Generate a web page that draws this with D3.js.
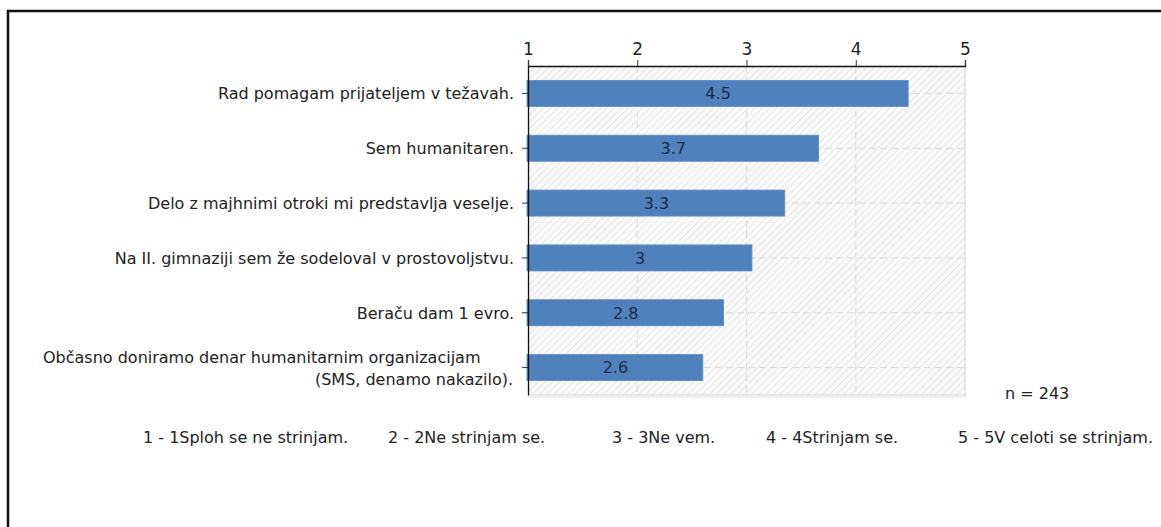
<!DOCTYPE html>
<html><head><meta charset="utf-8">
<script src="https://cdn.jsdelivr.net/npm/d3@7"></script>
<style>
html,body{margin:0;padding:0;background:#fff;}
svg{display:block;}
text{font-family:'DejaVu Sans',sans-serif;fill:#222;}
</style></head>
<body><svg id="c" width="1161" height="527"></svg>
<script>
const categories = [
  "Rad pomagam prijateljem v težavah.",
  "Sem humanitaren.",
  "Delo z majhnimi otroki mi predstavlja veselje.",
  "Na II. gimnaziji sem že sodeloval v prostovoljstvu.",
  "Beraču dam 1 evro.",
  "Občasno doniramo denar humanitarnim organizacijam\n(SMS, denamo nakazilo)."
];
const values = [4.48, 3.66, 3.35, 3.05, 2.79, 2.60];
const valueLabels = ["4.5", "3.7", "3.3", "3", "2.8", "2.6"];
const ticks = [1, 2, 3, 4, 5];
const legendLabels = [
  "1 - 1Sploh se ne strinjam.",
  "2 - 2Ne strinjam se.",
  "3 - 3Ne vem.",
  "4 - 4Strinjam se.",
  "5 - 5V celoti se strinjam."
];
const nLabel = "n = 243";

// layout
const L = {x0:528, x1:965, y0:66, y1:395, fs:16};
const legendX = [143, 388, 612, 766, 958];

const svg = d3.select("#c");
svg.append("rect").attr("x",8).attr("y",11).attr("width",1200).attr("height",600)
  .attr("fill","none").attr("stroke","#111").attr("stroke-width",2.5);

const x = d3.scaleLinear().domain([1,5]).range([L.x0, L.x1]);
const y = d3.scaleBand().domain(categories).range([L.y0, L.y1]).paddingInner(0.525).paddingOuter(0.2625);

const defs = svg.append("defs");
const pat = defs.append("pattern").attr("id","hatch").attr("patternUnits","userSpaceOnUse")
  .attr("width",5).attr("height",5).attr("patternTransform","rotate(45)");
pat.append("rect").attr("width",5).attr("height",5).attr("fill","#f9f9f9");
pat.append("line").attr("x1",0).attr("y1",0).attr("x2",0).attr("y2",5).attr("stroke","#e4e4e4").attr("stroke-width",1.6);

svg.append("rect").attr("x",L.x0).attr("y",L.y0).attr("width",L.x1-L.x0).attr("height",L.y1-L.y0).attr("fill","url(#hatch)");

const g = svg.append("g");
g.selectAll("line.v").data(ticks.slice(1,4)).join("line")
  .attr("x1",d=>x(d)).attr("x2",d=>x(d)).attr("y1",L.y0).attr("y2",L.y1)
  .attr("stroke","#dcdcdc").attr("stroke-dasharray","7,4");
g.selectAll("line.h").data(categories).join("line")
  .attr("x1",L.x0).attr("x2",L.x1).attr("y1",d=>y(d)+y.bandwidth()/2).attr("y2",d=>y(d)+y.bandwidth()/2)
  .attr("stroke","#dcdcdc").attr("stroke-dasharray","7,4");
svg.append("line").attr("x1",x(5)).attr("x2",x(5)).attr("y1",L.y0).attr("y2",L.y1+1).attr("stroke","#d0d0d0");
svg.append("line").attr("x1",L.x0).attr("x2",x(5)+2).attr("y1",L.y1).attr("y2",L.y1).attr("stroke","#d4d4d4").attr("stroke-width",1);
svg.append("line").attr("x1",L.x0).attr("x2",x(5)+2).attr("y1",L.y1+2).attr("y2",L.y1+2).attr("stroke","#e2e2e2").attr("stroke-width",1);

svg.selectAll("rect.bar").data(categories).join("rect").attr("class","bar")
  .attr("x",x(1)-1).attr("y",d=>y(d))
  .attr("width",(d,i)=>x(values[i])-x(1)+1).attr("height",y.bandwidth())
  .attr("fill","#4f81bd").attr("stroke","#5b8bc4").attr("stroke-width",0.8);

svg.selectAll("text.val").data(categories).join("text")
  .attr("x",(d,i)=>(x(1)+x(values[i]))/2).attr("y",d=>y(d)+y.bandwidth()/2).attr("dy","0.36em")
  .attr("text-anchor","middle").style("font-size",L.fs+"px").style("fill","#1c2a4a")
  .text((d,i)=>valueLabels[i]);

const topAxis = svg.append("g").attr("transform",`translate(0,${L.y0})`)
  .call(d3.axisTop(x).tickValues(ticks).tickFormat(d3.format("d")).tickSize(6).tickPadding(5));
topAxis.select(".domain").attr("stroke","#111").attr("stroke-width",1.3);
topAxis.selectAll(".tick line").attr("stroke","#333");
topAxis.selectAll(".tick text").style("font-size","17px").style("font-family","'DejaVu Sans',sans-serif").attr("fill","#222");

const leftAxis = svg.append("g").attr("transform",`translate(${L.x0},0)`)
  .call(d3.axisLeft(y).tickSize(6).tickSizeOuter(0).tickFormat(""));
leftAxis.select(".domain").attr("stroke","#111").attr("stroke-width",1.3);
leftAxis.selectAll(".tick line").attr("stroke","#333");

categories.forEach(c=>{
  const lines = c.split("\n");
  const cy = y(c)+y.bandwidth()/2;
  if(lines.length===1){
    svg.append("text").attr("x",L.x0-14).attr("y",cy).attr("dy","0.36em")
      .attr("text-anchor","end").style("font-size",L.fs+"px").text(lines[0]);
  } else {
    svg.append("text").attr("x",43).attr("y",cy-10).attr("dy","0.36em")
      .attr("text-anchor","start").style("font-size",L.fs+"px").text(lines[0]);
    svg.append("text").attr("x",L.x0-15).attr("y",cy+12).attr("dy","0.36em")
      .attr("text-anchor","end").style("font-size",L.fs+"px").text(lines[1]);
  }
});

svg.append("text").attr("x",1005).attr("y",393).attr("dy","0.36em").style("font-size",L.fs+"px").text(nLabel);

svg.selectAll("text.leg").data(legendLabels).join("text")
  .attr("x",(d,i)=>legendX[i]).attr("y",437).attr("dy","0.36em")
  .style("font-size",L.fs+"px").text(d=>d);
</script></body></html>
